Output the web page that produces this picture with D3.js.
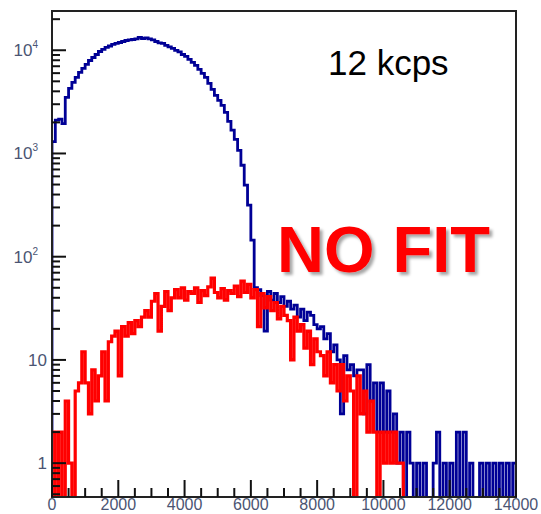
<!DOCTYPE html>
<html>
<head>
<meta charset="utf-8">
<script src="https://cdn.jsdelivr.net/npm/d3@7"></script>
<style>
    body { margin: 0; background: #fff; }
    svg text { font-family: "Liberation Sans", Arial, sans-serif; }
</style>
</head>
<body>
<div class="visualGraph"></div>
<script>
// histogram binning: 140 bins of 100 channels from 0 to 14000
const binWidth = 100;
const xMax = 14000;

// blue: total spectrum (counts per bin)
const blueCounts = [
    1300, 2100, 2150, 1950, 3500, 4270, 4890, 5460, 6100, 6670,
    7290, 7960, 8510, 9100, 9730, 10190, 10650, 11000, 11380, 11640,
    11890, 12160, 12430, 12580, 12710, 12860, 13300, 13000, 13150, 12860,
    12580, 12160, 11770, 11640, 11130, 10770, 10410, 9950, 9630, 9100,
    8710, 8150, 7620, 7130, 6520, 5960, 5450, 4770, 4180, 3650,
    3270, 2920, 2500, 2050, 1680, 1370, 1070, 769, 493, 316,
    145, 50, 48, 42, 19, 46, 38, 44, 36, 41,
    33, 37, 31, 34, 26, 31, 24, 29, 27, 22,
    20, 21, 16, 18, 12, 14, 10, 3, 11, 8,
    9, 7, 8, 8, 3, 9, 4, 6, 2, 6,
    2, 5, 2, 3, 1, 2, 0, 2, 1, 0,
    1, 0, 1, 0, 0, 1, 2, 0, 1, 0,
    1, 0, 2, 0, 2, 0, 1, 0, 0, 1,
    0, 1, 0, 1, 0, 1, 0, 1, 0, 1
];

// red: selected events (counts per bin)
const redCounts = [
    2, 0, 2, 0, 4, 1, 0, 5, 6, 12,
    6, 3, 8, 4, 7, 12, 4, 15, 17, 19,
    7, 21, 17, 23, 18, 24, 21, 26, 30, 26,
    37, 44, 19, 33, 46, 30, 40, 48, 40, 50,
    38, 46, 44, 50, 36, 47, 42, 51, 62, 45,
    40, 49, 38, 47, 44, 52, 41, 58, 45, 54,
    40, 48, 21, 44, 32, 41, 30, 36, 25, 33,
    27, 24, 10, 26, 19, 22, 13, 19, 9, 16,
    12, 11, 7, 12, 6, 9, 5, 9, 4, 7,
    5, 0, 7, 3, 5, 2, 4, 2, 0, 2,
    1, 2, 1, 2, 1, 1, 0, 0, 0, 0,
    0, 0, 0, 0, 0, 0, 0, 0, 0, 0,
    0, 0, 0, 0, 0, 0, 0, 0, 0, 0,
    0, 0, 0, 0, 0, 0, 0, 0, 0, 0
];

const xTickValues = [0, 2000, 4000, 6000, 8000, 10000, 12000, 14000];
const yDecades = [1, 10, 100, 1000, 10000];
const yDecadeLabels = ["1", "10", "10", "10", "10"];
const yDecadeExponents = ["", "", "2", "3", "4"];

const rateLabel = "12 kcps";
const fitLabel = "NO FIT";

const width = 541;
const height = 514;
const frame = { left: 52, right: 516, top: 11, bottom: 497 };

const svg = d3.select(".visualGraph")
    .append("svg")
    .attr("width", width)
    .attr("height", height)
    .attr("viewBox", [0, 0, width, height]);

const x = d3.scaleLinear().domain([0, xMax]).range([frame.left, frame.right]);
const y = d3.scaleLog().domain([0.47, 24000]).range([frame.bottom, frame.top]);

const defs = svg.append("defs");
defs.append("clipPath").attr("id", "frameClip")
    .append("rect")
    .attr("x", frame.left)
    .attr("y", frame.top)
    .attr("width", frame.right - frame.left)
    .attr("height", frame.bottom - frame.top);

const shadow = defs.append("filter").attr("id", "textShadow")
    .attr("x", "-10%").attr("y", "-10%").attr("width", "130%").attr("height", "140%");
shadow.append("feDropShadow")
    .attr("dx", 3).attr("dy", 3).attr("stdDeviation", 1.6)
    .attr("flood-color", "#000").attr("flood-opacity", 0.35);

// step outline like a ROOT histogram; empty bins fall to the bottom of the frame
function histPoints(counts) {
    const yv = (v) => v > 0 ? y(v) : frame.bottom + 2;
    const pts = [[x(0), frame.bottom + 2]];
    counts.forEach((v, i) => {
        pts.push([x(i * binWidth), yv(v)]);
        pts.push([x((i + 1) * binWidth), yv(v)]);
    });
    pts.push([x(xMax), frame.bottom + 2]);
    return pts;
}

const line = d3.line();
const plot = svg.append("g").attr("clip-path", "url(#frameClip)");

plot.append("path")
    .attr("d", line(histPoints(blueCounts)))
    .attr("fill", "none")
    .attr("stroke", "#000096")
    .attr("stroke-width", 2.8)
    .attr("stroke-linejoin", "miter");

plot.append("path")
    .attr("d", line(histPoints(redCounts)))
    .attr("fill", "none")
    .attr("stroke", "#ff0000")
    .attr("stroke-width", 3.2)
    .attr("stroke-linejoin", "miter");

// frame
svg.append("rect")
    .attr("x", frame.left)
    .attr("y", frame.top)
    .attr("width", frame.right - frame.left)
    .attr("height", frame.bottom - frame.top)
    .attr("fill", "none")
    .attr("stroke", "#222")
    .attr("stroke-width", 2);

// x axis ticks (inward)
const xMinor = d3.range(0, xMax + 1, 500).filter(v => v % 2000 !== 0);
const axisColor = "#111";
svg.append("g").selectAll("line")
    .data(xMinor).join("line")
    .attr("x1", d => x(d)).attr("x2", d => x(d))
    .attr("y1", frame.bottom).attr("y2", frame.bottom - 9)
    .attr("stroke", axisColor).attr("stroke-width", 2);
svg.append("g").selectAll("line")
    .data(xTickValues).join("line")
    .attr("x1", d => x(d)).attr("x2", d => x(d))
    .attr("y1", frame.bottom).attr("y2", frame.bottom - 17)
    .attr("stroke", axisColor).attr("stroke-width", 2);

const labelColor = "#4b5573";
svg.append("g").selectAll("text")
    .data(xTickValues).join("text")
    .attr("x", d => x(d))
    .attr("y", 510)
    .attr("text-anchor", "middle")
    .attr("font-size", 16)
    .attr("fill", labelColor)
    .text(d => d);

// y axis ticks (inward)
const yMinor = [];
[0.1, 1, 10, 100, 1000, 10000].forEach(d => {
    for (let k = 2; k <= 9; k++) {
        const v = d * k;
        if (v >= 0.47 && v <= 24000) yMinor.push(v);
    }
});
svg.append("g").selectAll("line")
    .data(yMinor).join("line")
    .attr("x1", frame.left).attr("x2", frame.left + 8)
    .attr("y1", d => y(d)).attr("y2", d => y(d))
    .attr("stroke", axisColor).attr("stroke-width", 2);
svg.append("g").selectAll("line")
    .data(yDecades).join("line")
    .attr("x1", frame.left).attr("x2", frame.left + 14)
    .attr("y1", d => y(d)).attr("y2", d => y(d))
    .attr("stroke", axisColor).attr("stroke-width", 2);

const yLabels = svg.append("g").selectAll("text")
    .data(yDecades).join("text")
    .attr("x", (d, i) => yDecadeExponents[i] ? 38 : 47)
    .attr("y", d => y(d) + 6)
    .attr("text-anchor", "end")
    .attr("font-size", 17)
    .attr("fill", labelColor)
    .text((d, i) => yDecadeLabels[i]);
yLabels.append("tspan")
    .attr("font-size", 10)
    .attr("dy", -8)
    .text((d, i) => yDecadeExponents[i]);

// annotations
svg.append("text")
    .attr("x", 328)
    .attr("y", 75)
    .attr("font-size", 35)
    .attr("fill", "#000")
    .text(rateLabel);

svg.append("text")
    .attr("x", 277)
    .attr("y", 272)
    .attr("font-size", 65)
    .attr("font-weight", "bold")
    .attr("fill", "#ff0000")
    .attr("filter", "url(#textShadow)")
    .text(fitLabel);
</script>
</body>
</html>
